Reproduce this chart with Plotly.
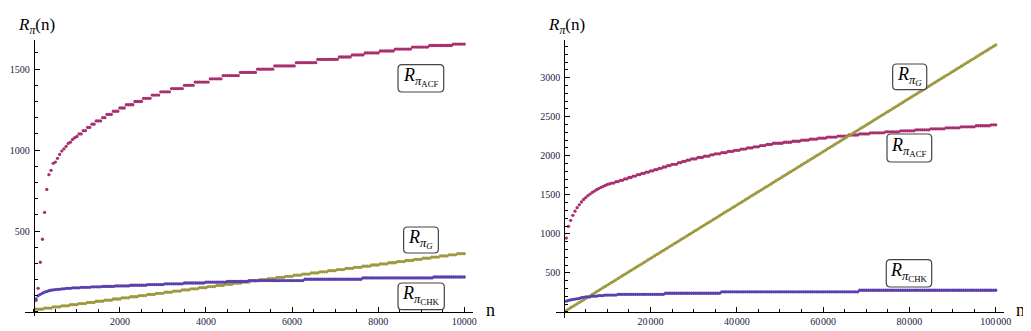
import plotly.graph_objects as go

# ---- data: left panel (n = 50 .. 10000, step 50) ----
n_left = list(range(50, 10001, 50))

acf_left = [
    72, 146, 307, 449, 615, 757, 848, 875, 918, 926,
    949, 973, 994, 1008, 1023, 1041, 1049, 1066, 1076, 1084,
    1100, 1100, 1120, 1120, 1140, 1140, 1160, 1160, 1180, 1180,
    1180, 1200, 1200, 1220, 1220, 1220, 1240, 1240, 1240, 1260,
    1260, 1260, 1280, 1280, 1280, 1280, 1300, 1300, 1300, 1300,
    1320, 1320, 1320, 1320, 1340, 1340, 1340, 1340, 1360, 1360,
    1360, 1360, 1360, 1380, 1380, 1380, 1380, 1380, 1380, 1400,
    1400, 1400, 1400, 1400, 1420, 1420, 1420, 1420, 1420, 1420,
    1420, 1440, 1440, 1440, 1440, 1440, 1440, 1460, 1460, 1460,
    1460, 1460, 1460, 1460, 1460, 1480, 1480, 1480, 1480, 1480,
    1480, 1480, 1480, 1500, 1500, 1500, 1500, 1500, 1500, 1500,
    1500, 1520, 1520, 1520, 1520, 1520, 1520, 1520, 1520, 1520,
    1520, 1540, 1540, 1540, 1540, 1540, 1540, 1540, 1540, 1540,
    1540, 1560, 1560, 1560, 1560, 1560, 1560, 1560, 1560, 1560,
    1560, 1575, 1575, 1575, 1575, 1575, 1575, 1588, 1588, 1588,
    1588, 1588, 1588, 1600, 1600, 1600, 1600, 1600, 1600, 1600,
    1612, 1612, 1612, 1612, 1612, 1612, 1612, 1624, 1624, 1624,
    1624, 1624, 1624, 1624, 1624, 1636, 1636, 1636, 1636, 1636,
    1636, 1636, 1636, 1646, 1646, 1646, 1646, 1646, 1646, 1646,
    1646, 1646, 1646, 1646, 1655, 1655, 1655, 1655, 1655, 1655,
]

chk_left = [
    80, 100, 109, 116, 122, 127, 131, 134, 136, 138,
    140, 140, 143, 143, 146, 146, 146, 149, 149, 149,
    149, 152, 152, 152, 152, 152, 155, 155, 155, 155,
    155, 158, 158, 158, 158, 158, 158, 161, 161, 161,
    161, 161, 161, 161, 165, 165, 165, 165, 165, 165,
    165, 165, 169, 169, 169, 169, 169, 169, 169, 169,
    174, 174, 174, 174, 174, 174, 174, 174, 174, 179,
    179, 179, 179, 179, 179, 179, 179, 179, 179, 184,
    184, 184, 184, 184, 184, 184, 184, 184, 184, 188,
    188, 188, 188, 188, 188, 188, 188, 188, 188, 194,
    194, 194, 194, 194, 194, 194, 194, 194, 194, 194,
    194, 194, 194, 194, 194, 194, 194, 194, 194, 194,
    194, 194, 194, 194, 194, 202, 202, 202, 202, 202,
    202, 202, 202, 202, 202, 202, 202, 202, 202, 202,
    202, 202, 202, 202, 202, 202, 202, 202, 202, 202,
    202, 202, 210, 210, 210, 210, 210, 210, 210, 210,
    210, 210, 210, 210, 210, 210, 210, 210, 210, 210,
    210, 210, 210, 210, 210, 210, 210, 210, 210, 210,
    210, 210, 210, 210, 210, 216, 216, 216, 216, 216,
    216, 216, 216, 216, 216, 216, 216, 216, 216, 216,
]

g_left = [
    17, 17, 17, 17, 24, 24, 24, 24, 31, 31,
    31, 31, 38, 38, 38, 38, 45, 45, 45, 45,
    52, 52, 52, 52, 59, 59, 59, 59, 66, 66,
    66, 66, 73, 73, 73, 73, 80, 80, 80, 80,
    87, 87, 87, 87, 94, 94, 94, 94, 101, 101,
    101, 101, 108, 108, 108, 108, 115, 115, 115, 115,
    122, 122, 122, 122, 129, 129, 129, 129, 136, 136,
    136, 136, 143, 143, 143, 143, 150, 150, 150, 150,
    157, 157, 157, 157, 164, 164, 164, 164, 171, 171,
    171, 171, 178, 178, 178, 178, 185, 185, 185, 185,
    192, 192, 192, 192, 199, 199, 199, 199, 206, 206,
    206, 206, 213, 213, 213, 213, 220, 220, 220, 220,
    227, 227, 227, 227, 234, 234, 234, 234, 241, 241,
    241, 241, 248, 248, 248, 248, 255, 255, 255, 255,
    262, 262, 262, 262, 269, 269, 269, 269, 276, 276,
    276, 276, 283, 283, 283, 283, 290, 290, 290, 290,
    297, 297, 297, 297, 304, 304, 304, 304, 311, 311,
    311, 311, 318, 318, 318, 318, 325, 325, 325, 325,
    332, 332, 332, 332, 339, 339, 339, 339, 346, 346,
    346, 346, 353, 353, 353, 353, 360, 360, 360, 360,
]

# ---- data: right panel (n = 500 .. 100000, step 500) ----
n_right = list(range(500, 100001, 500))

acf_right = [
    946, 1096, 1173, 1237, 1290, 1335, 1372, 1408, 1440, 1465,
    1490, 1510, 1530, 1548, 1565, 1580, 1595, 1608, 1620, 1632,
    1640, 1650, 1650, 1668, 1668, 1686, 1686, 1704, 1704, 1722,
    1722, 1740, 1740, 1758, 1758, 1774, 1774, 1790, 1790, 1806,
    1806, 1822, 1822, 1839, 1839, 1856, 1856, 1873, 1873, 1890,
    1890, 1890, 1912, 1912, 1928, 1928, 1944, 1944, 1960, 1960,
    1960, 1978, 1978, 1978, 1995, 1995, 1995, 2012, 2012, 2025,
    2025, 2025, 2040, 2040, 2040, 2055, 2055, 2055, 2070, 2070,
    2070, 2085, 2085, 2085, 2100, 2100, 2100, 2115, 2115, 2115,
    2130, 2130, 2130, 2145, 2145, 2145, 2160, 2160, 2160, 2160,
    2160, 2173, 2173, 2173, 2173, 2186, 2186, 2186, 2186, 2199,
    2199, 2199, 2199, 2212, 2212, 2212, 2212, 2225, 2225, 2225,
    2225, 2239, 2239, 2239, 2239, 2239, 2252, 2252, 2252, 2252,
    2252, 2266, 2266, 2266, 2266, 2266, 2280, 2280, 2280, 2280,
    2280, 2293, 2293, 2293, 2293, 2293, 2293, 2293, 2306, 2306,
    2306, 2306, 2306, 2306, 2306, 2319, 2319, 2319, 2319, 2319,
    2319, 2319, 2332, 2332, 2332, 2332, 2332, 2332, 2332, 2345,
    2345, 2345, 2345, 2345, 2345, 2345, 2358, 2358, 2358, 2358,
    2358, 2358, 2358, 2371, 2371, 2371, 2371, 2371, 2371, 2371,
    2384, 2384, 2384, 2384, 2384, 2384, 2384, 2396, 2396, 2396,
]

chk_right = [
    138, 149, 155, 161, 165, 169, 174, 184, 188, 194,
    194, 194, 202, 202, 202, 210, 210, 210, 216, 216,
    216, 216, 216, 216, 226, 226, 226, 226, 226, 226,
    226, 226, 226, 226, 226, 226, 226, 226, 226, 226,
    226, 226, 226, 226, 226, 226, 240, 240, 240, 240,
    240, 240, 240, 240, 240, 240, 240, 240, 240, 240,
    240, 240, 240, 240, 240, 240, 240, 240, 240, 240,
    240, 240, 258, 258, 258, 258, 258, 258, 258, 258,
    258, 258, 258, 258, 258, 258, 258, 258, 258, 258,
    258, 258, 258, 258, 258, 258, 258, 258, 258, 258,
    258, 258, 258, 258, 258, 258, 258, 258, 258, 258,
    258, 258, 258, 258, 258, 258, 258, 258, 258, 258,
    258, 258, 258, 258, 258, 258, 258, 258, 258, 258,
    258, 258, 258, 258, 258, 258, 278, 278, 278, 278,
    278, 278, 278, 278, 278, 278, 278, 278, 278, 278,
    278, 278, 278, 278, 278, 278, 278, 278, 278, 278,
    278, 278, 278, 278, 278, 278, 278, 278, 278, 278,
    278, 278, 278, 278, 278, 278, 278, 278, 278, 278,
    278, 278, 278, 278, 278, 278, 278, 278, 278, 278,
    278, 278, 278, 278, 278, 278, 278, 278, 278, 278,
]

g_right = [
    20, 37, 54, 71, 88, 105, 122, 139, 156, 173,
    190, 207, 225, 242, 259, 276, 293, 310, 327, 344,
    361, 378, 395, 412, 430, 447, 464, 481, 498, 515,
    532, 549, 566, 583, 600, 617, 635, 652, 669, 686,
    703, 720, 737, 754, 771, 788, 805, 822, 840, 857,
    874, 891, 908, 925, 942, 959, 976, 993, 1010, 1027,
    1045, 1062, 1079, 1096, 1113, 1130, 1147, 1164, 1181, 1198,
    1215, 1232, 1250, 1267, 1284, 1301, 1318, 1335, 1352, 1369,
    1386, 1403, 1420, 1437, 1455, 1472, 1489, 1506, 1523, 1540,
    1557, 1574, 1591, 1608, 1625, 1642, 1660, 1677, 1694, 1711,
    1728, 1745, 1762, 1779, 1796, 1813, 1830, 1847, 1865, 1882,
    1899, 1916, 1933, 1950, 1967, 1984, 2001, 2018, 2035, 2052,
    2070, 2087, 2104, 2121, 2138, 2155, 2172, 2189, 2206, 2223,
    2240, 2257, 2275, 2292, 2309, 2326, 2343, 2360, 2377, 2394,
    2411, 2428, 2445, 2462, 2480, 2497, 2514, 2531, 2548, 2565,
    2582, 2599, 2616, 2633, 2650, 2667, 2685, 2702, 2719, 2736,
    2753, 2770, 2787, 2804, 2821, 2838, 2855, 2872, 2890, 2907,
    2924, 2941, 2958, 2975, 2992, 3009, 3026, 3043, 3060, 3077,
    3095, 3112, 3129, 3146, 3163, 3180, 3197, 3214, 3231, 3248,
    3265, 3282, 3300, 3317, 3334, 3351, 3368, 3385, 3402, 3419,
]

xticks_left = [2000, 4000, 6000, 8000, 10000]
yticks_left = [500, 1000, 1500]
xticks_right = [20000, 40000, 60000, 80000, 100000]
xticklabels_right = ["20\u200a000", "40\u200a000", "60\u200a000", "80\u200a000", "100\u200a000"]
yticks_right = [500, 1000, 1500, 2000, 2500, 3000]

W, H = 1031, 331
C_ACF = "#a8306f"
C_G = "#9e9840"
C_CHK = "#5b3fae"
SERIF = "Liberation Serif"

# pixel frames of the two panels: (left, right, top, bottom) and data ranges
panels = [
    dict(px=(17, 468, 32, 308), xr=(-208, 10200), yr=(-25, 1680)),
    dict(px=(552, 1003, 32, 310), xr=(-1840, 101960), yr=(-77, 3482)),
]

fig = go.Figure()

series = [
    (n_left, acf_left, C_ACF, "x", "y"),
    (n_left, g_left, C_G, "x", "y"),
    (n_left, chk_left, C_CHK, "x", "y"),
    (n_right, acf_right, C_ACF, "x2", "y2"),
    (n_right, g_right, C_G, "x2", "y2"),
    (n_right, chk_right, C_CHK, "x2", "y2"),
]
for xs, ys, col, xa, ya in series:
    fig.add_trace(go.Scatter(x=xs, y=ys, mode="markers", xaxis=xa, yaxis=ya,
                             marker=dict(size=3.3, color=col, line=dict(width=0)),
                             showlegend=False, hoverinfo="skip"))


def axis_common():
    return dict(showgrid=False, zeroline=False, showline=True, linecolor="black",
                linewidth=1, ticks="inside", ticklen=5, tickcolor="black", tickwidth=1,
                tickfont=dict(family=SERIF, size=10, color="#222244"),
                anchor="free")


layout = {}
ticksets = [
    (xticks_left, [str(v) for v in xticks_left], 500, yticks_left, 100),
    (xticks_right, xticklabels_right, 5000, yticks_right, 100),
]
for k, (p, (xt, xtt, xminor, yt, yminor)) in enumerate(zip(panels, ticksets)):
    l, r, t, b = p["px"]
    xd = [l / W, r / W]
    yd = [1 - b / H, 1 - t / H]
    x0, x1 = p["xr"]
    y0, y1 = p["yr"]
    # axes cross at the origin, Mathematica style
    ypos = xd[0] + (0 - x0) / (x1 - x0) * (xd[1] - xd[0])
    xpos = yd[0] + (0 - y0) / (y1 - y0) * (yd[1] - yd[0])
    sx = "" if k == 0 else "2"
    xa = axis_common()
    xa.update(domain=xd, range=[x0, x1], position=xpos, tickmode="array",
              tickvals=xt, ticktext=xtt,
              minor=dict(tickmode="linear", tick0=0, dtick=xminor, ticks="inside",
                         ticklen=3, tickcolor="black"))
    ya = axis_common()
    ya.update(domain=yd, range=[y0, y1], position=ypos, tickmode="array",
              tickvals=yt, ticktext=[str(v) for v in yt], ticklabelstandoff=2,
              minor=dict(tickmode="linear", tick0=0, dtick=yminor, ticks="inside",
                         ticklen=3, tickcolor="black"))
    layout["xaxis" + sx] = xa
    layout["yaxis" + sx] = ya

fig.update_layout(**layout)


def rounded_box(x0, y0, x1, y1, r=4):
    def P(x, y):
        return f"{x / W:.5f},{1 - y / H:.5f}"
    return (f"M{P(x0 + r, y0)} L{P(x1 - r, y0)} Q{P(x1, y0)} {P(x1, y0 + r)} "
            f"L{P(x1, y1 - r)} Q{P(x1, y1)} {P(x1 - r, y1)} L{P(x0 + r, y1)} "
            f"Q{P(x0, y1)} {P(x0, y1 - r)} L{P(x0, y0 + r)} Q{P(x0, y0)} {P(x0 + r, y0)} Z")


def label_text(sub):
    return f"<i>R</i><sub><i>π</i><sub>{sub}</sub></sub>"


callouts = [
    ((392.7, 56.7, 438.7, 84), "ACF"),
    ((398.3, 219, 433.3, 245), "<i>G</i>"),
    ((392.7, 275, 439.3, 301.7), "CHK"),
    ((890.7, 56, 925, 81.7), "<i>G</i>"),
    ((885, 126, 930, 154), "ACF"),
    ((884.3, 251.7, 930, 279), "CHK"),
]
shapes = []
annotations = []
for (bx0, by0, bx1, by1), sub in callouts:
    shapes.append(dict(type="path", path=rounded_box(bx0, by0, bx1, by1),
                       xref="paper", yref="paper", fillcolor="white",
                       line=dict(color="#444444", width=1.2), layer="above"))
    annotations.append(dict(text=label_text(sub), xref="paper", yref="paper",
                            x=(bx0 + bx1) / 2 / W, y=1 - (by0 + by1) / 2 / H + 0.004,
                            xanchor="center", yanchor="middle", showarrow=False,
                            font=dict(family=SERIF, size=18, color="black")))

for lx in (8, 541.5):
    annotations.append(dict(text="<i>R</i><sub><i>π</i></sub>(n)", xref="paper", yref="paper",
                            x=lx / W, y=1 - 18 / H, xanchor="left", yanchor="middle",
                            showarrow=False, font=dict(family=SERIF, size=17, color="black")))
for nx in (479, 1013):
    annotations.append(dict(text="n", xref="paper", yref="paper",
                            x=nx / W, y=1 - 302 / H, xanchor="left", yanchor="middle",
                            showarrow=False, font=dict(family=SERIF, size=18, color="black")))

fig.update_layout(width=W, height=H, margin=dict(l=0, r=0, t=0, b=0),
                  paper_bgcolor="white", plot_bgcolor="white",
                  shapes=shapes, annotations=annotations)

fig.write_html("out.html")
